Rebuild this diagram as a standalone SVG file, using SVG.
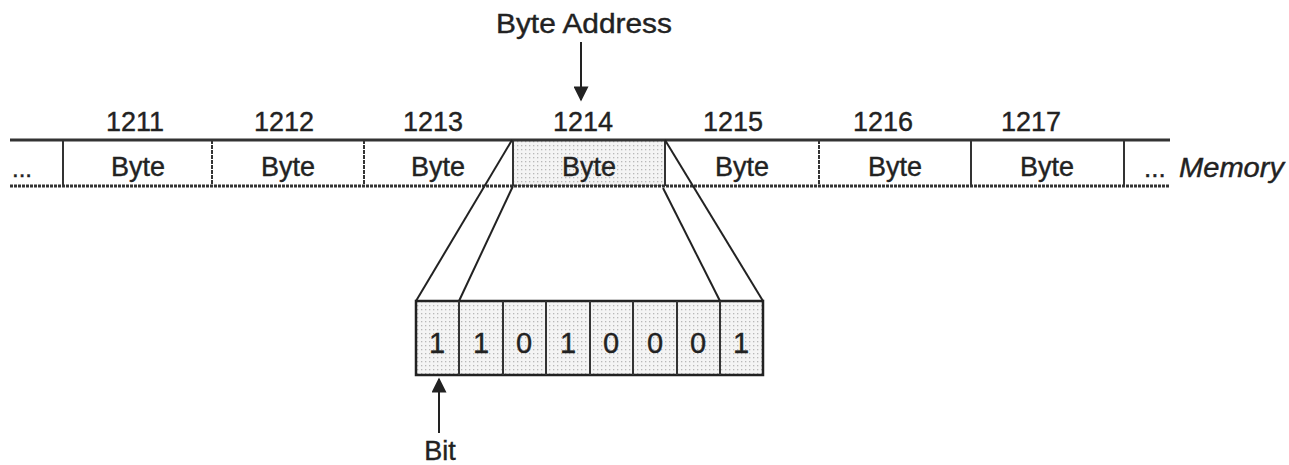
<svg xmlns="http://www.w3.org/2000/svg" width="1289" height="465" viewBox="0 0 1289 465">
<defs>
<pattern id="dots" width="4" height="4" patternUnits="userSpaceOnUse">
<rect width="4" height="4" fill="#f4f4f4"/>
<rect x="1" y="1" width="1.3" height="1.3" fill="#b8b8b8"/>
</pattern>
<marker id="arr" viewBox="0 0 10 10" refX="9" refY="5" markerWidth="19" markerHeight="15" markerUnits="userSpaceOnUse" orient="auto">
<path d="M0,0 L10,5 L0,10 z" fill="#222"/>
</marker>
</defs>
<style>
text{font-family:"Liberation Sans",Arial,sans-serif;fill:#222;stroke:#222;stroke-width:0.4}
.lbl{font-size:27px;text-anchor:middle}
.addr{font-size:27px;text-anchor:middle}
.bit{font-size:29px;text-anchor:middle}
.ln{stroke:#222;stroke-width:2;fill:none}
.div{stroke:#333;stroke-width:2}
</style>
<rect width="1289" height="465" fill="#fff"/>
<g id="byte-address">
<text class="lbl" x="584" y="33" textLength="176" lengthAdjust="spacingAndGlyphs">Byte Address</text>
</g>
<g id="addresses">
<text class="addr" x="135" y="131">1211</text>
<text class="addr" x="284" y="131">1212</text>
<text class="addr" x="433" y="131">1213</text>
<text class="addr" x="583" y="131">1214</text>
<text class="addr" x="733" y="131">1215</text>
<text class="addr" x="883" y="131">1216</text>
<text class="addr" x="1031" y="131">1217</text>
</g>
<g id="memory">
<rect x="513" y="140" width="152" height="46" fill="url(#dots)"/>
<line x1="10" y1="140" x2="1170" y2="140" stroke="#333" stroke-width="3"/>
<line x1="10" y1="186" x2="1170" y2="186" stroke="#333" stroke-width="3" stroke-dasharray="3 1"/>
<line class="div" x1="63" y1="140" x2="63" y2="186"/>
<line class="div" x1="212" y1="140" x2="212" y2="186" stroke-dasharray="4 1"/>
<line class="div" x1="364" y1="140" x2="364" y2="186" stroke-dasharray="4 1"/>
<line class="div" x1="513" y1="140" x2="513" y2="186"/>
<line class="div" x1="665" y1="140" x2="665" y2="186"/>
<line class="div" x1="819" y1="140" x2="819" y2="186" stroke-dasharray="4 1"/>
<line class="div" x1="971" y1="140" x2="971" y2="186"/>
<line class="div" x1="1124" y1="140" x2="1124" y2="186"/>
<text x="12" y="177" style="font-size:24px">...</text>
<text class="lbl" x="138" y="176">Byte</text>
<text class="lbl" x="288" y="176">Byte</text>
<text class="lbl" x="438" y="176">Byte</text>
<text class="lbl" x="589" y="176">Byte</text>
<text class="lbl" x="742" y="176">Byte</text>
<text class="lbl" x="895" y="176">Byte</text>
<text class="lbl" x="1047" y="176">Byte</text>
<text x="1144" y="177" style="font-size:26px">...</text>
<text x="1179" y="177" style="font-size:27px;font-style:italic" textLength="105" lengthAdjust="spacingAndGlyphs">Memory</text>
</g>
<g id="bits">
<rect x="416" y="301" width="347" height="74" fill="url(#dots)" stroke="#222" stroke-width="2.5"/>
<line class="div" x1="459" y1="301" x2="459" y2="375"/>
<line class="div" x1="503" y1="301" x2="503" y2="375"/>
<line class="div" x1="546" y1="301" x2="546" y2="375"/>
<line class="div" x1="590" y1="301" x2="590" y2="375"/>
<line class="div" x1="633" y1="301" x2="633" y2="375"/>
<line class="div" x1="677" y1="301" x2="677" y2="375"/>
<line class="div" x1="720" y1="301" x2="720" y2="375"/>
<text class="bit" x="437" y="353">1</text>
<text class="bit" x="481" y="353">1</text>
<text class="bit" x="524" y="353">0</text>
<text class="bit" x="568" y="353">1</text>
<text class="bit" x="611" y="353">0</text>
<text class="bit" x="655" y="353">0</text>
<text class="bit" x="698" y="353">0</text>
<text class="bit" x="741" y="353">1</text>
</g>
<g id="bit-label">
<text class="lbl" x="440" y="460">Bit</text>
</g>
<g id="connectors">
<line class="ln" x1="581" y1="42" x2="581" y2="100" marker-end="url(#arr)"/>
<line class="ln" x1="439" y1="433" x2="439" y2="379" marker-end="url(#arr)"/>
<line class="ln" x1="512" y1="140" x2="416" y2="301"/>
<line class="ln" x1="513" y1="186" x2="459" y2="301"/>
<line class="ln" x1="665" y1="140" x2="763" y2="301"/>
<line class="ln" x1="663" y1="188" x2="720" y2="301"/>
</g>
</svg>
